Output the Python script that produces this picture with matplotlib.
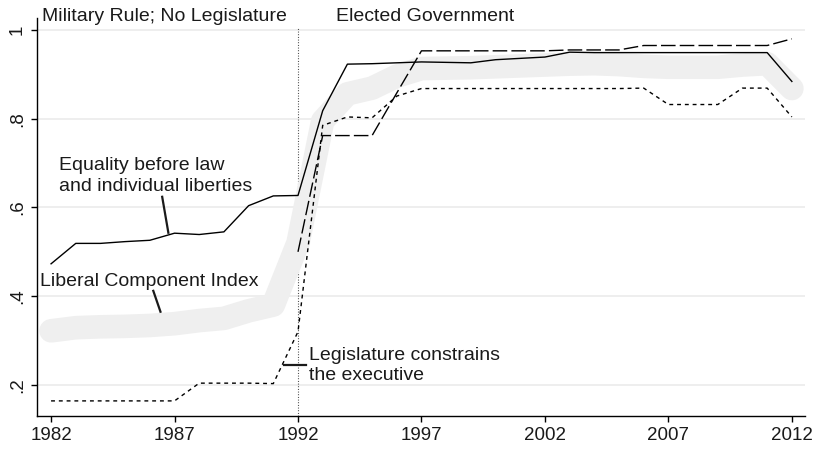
import numpy as np
import matplotlib
matplotlib.use('Agg')
import matplotlib.pyplot as plt

plt.rcParams['font.family'] = ['Liberation Sans', 'DejaVu Sans']

# Years and series
years = list(range(1982, 2013))

liberal_component = [0.322, 0.329, 0.331, 0.332, 0.334, 0.338, 0.345, 0.350, 0.367, 0.380,
                     0.520, 0.795, 0.856, 0.869, 0.896, 0.913, 0.914, 0.915, 0.917, 0.919,
                     0.921, 0.923, 0.924, 0.922, 0.918, 0.916, 0.916, 0.916, 0.921, 0.924,
                     0.868]

equality_law = [0.473, 0.519, 0.519, 0.523, 0.526, 0.542, 0.539, 0.545, 0.604, 0.626,
                0.627, 0.818, 0.923, 0.924, 0.926, 0.928, 0.927, 0.926, 0.933, 0.936,
                0.939, 0.950, 0.949, 0.949, 0.949, 0.949, 0.949, 0.949, 0.949, 0.949,
                0.884]

legislature = [0.164, 0.164, 0.164, 0.164, 0.164, 0.164, 0.204, 0.204, 0.204, 0.203,
               0.320, 0.785, 0.804, 0.802, 0.851, 0.868, 0.868, 0.868, 0.868, 0.868,
               0.868, 0.868, 0.868, 0.868, 0.869, 0.832, 0.832, 0.832, 0.869, 0.869,
               0.804]

# third component (unlabelled dashed line), starts in 1992
judicial = [np.nan] * 10 + [0.500, 0.762, 0.762, 0.762, 0.858, 0.953, 0.953, 0.953, 0.953, 0.953,
                            0.953, 0.955, 0.955, 0.955, 0.965, 0.965, 0.965, 0.965, 0.965, 0.965,
                            0.980]

x_ticks = [1982, 1987, 1992, 1997, 2002, 2007, 2012]
y_ticks = [0.2, 0.4, 0.6, 0.8, 1.0]
y_tick_labels = ['.2', '.4', '.6', '.8', '1']

txt = '#1a1a1a'
fs = 14

fig = plt.figure(figsize=(8.13, 4.5), dpi=100)
ax = fig.add_axes([0.0455, 0.0756, 0.9446, 0.8844])
ax.set_xlim(1981.43, 2012.53)
ax.set_ylim(0.130, 1.027)

# grid + transition line
for yv in y_ticks:
    ax.axhline(yv, color='#e9e9e9', lw=1.1, zorder=0)
ax.axvline(1992, ymax=(1.005 - 0.130) / (1.027 - 0.130), color='#333333', lw=0.8,
           dashes=(0.8, 1.6), zorder=1)

# series
ax.plot(years, liberal_component, color='#efefef', lw=17, solid_capstyle='round',
        solid_joinstyle='round', zorder=2)
ax.plot(years, equality_law, color='black', lw=1.0, zorder=3)
ax.plot(years, judicial, color='black', lw=1.0, dashes=(10.5, 3), zorder=3)
ax.plot(years, legislature, color='black', lw=1.0, dashes=(2.8, 2.8), zorder=3)

# labels with pointer lines
ax.text(1982.33, 0.671, 'Equality before law\nand individual liberties', fontsize=fs,
        color=txt, ha='left', va='center', linespacing=1.28)
ax.plot([1986.5, 1986.75], [0.624, 0.543], color='#1a1a1a', lw=1.6, zorder=4)

ax.text(1981.56, 0.434, 'Liberal Component Index', fontsize=fs, color=txt,
        ha='left', va='center')
ax.plot([1986.14, 1986.43], [0.412, 0.365], color='#1a1a1a', lw=1.6, zorder=4)

ax.text(1992.45, 0.243, 'Legislature constrains\nthe executive', fontsize=fs, color=txt,
        ha='left', va='center', linespacing=1.25)
ax.plot([1991.42, 1992.31], [0.245, 0.245], color='#1a1a1a', lw=1.6, zorder=4)

ax.text(1981.63, 1.031, 'Military Rule; No Legislature', fontsize=fs, color=txt,
        ha='left', va='center', clip_on=False)
ax.text(1993.53, 1.031, 'Elected Government', fontsize=fs, color=txt,
        ha='left', va='center', clip_on=False)

# axes styling
ax.set_xticks(x_ticks)
ax.set_xticklabels([str(y) for y in x_ticks])
ax.set_yticks(y_ticks)
ax.set_yticklabels(y_tick_labels, rotation=90, va='center')
ax.tick_params(axis='both', length=4.5, width=1.0, labelsize=13.5, colors='black',
               labelcolor=txt)
ax.tick_params(axis='x', pad=3.5)
ax.tick_params(axis='y', pad=3.5)
for side in ['top', 'right']:
    ax.spines[side].set_visible(False)
for side in ['left', 'bottom']:
    ax.spines[side].set_linewidth(1.0)

plt.savefig('out.png', dpi=100)
